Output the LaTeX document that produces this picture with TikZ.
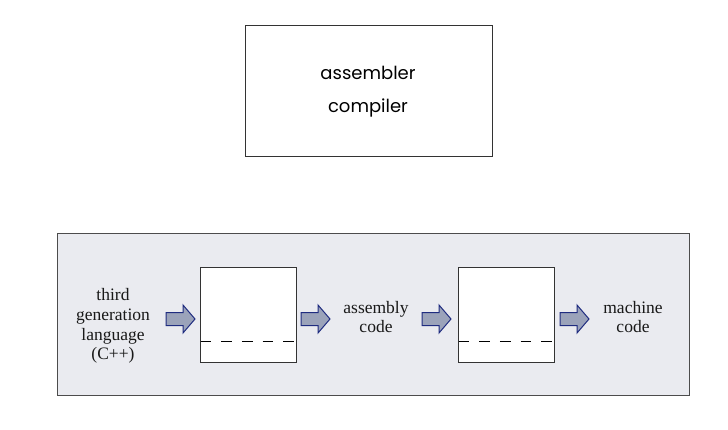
\documentclass[tikz,border=0pt]{standalone}
\usepackage{fontspec}
\setmainfont{Liberation Serif}
\newfontfamily\popfont{Poppins}
\definecolor{panelfill}{HTML}{EAEBF0}
\definecolor{arrowfill}{HTML}{9BA3BA}
\definecolor{arrowline}{HTML}{1F2C80}
\begin{document}
\begin{tikzpicture}[x=1pt,y=-1pt,
  box/.style={draw=black!80, line width=0.8pt, fill=white},
  serif/.style={font=\fontsize{17.5}{19.8}\selectfont, align=center, text=black!90},
  popstyle/.style={font=\popfont\fontsize{18}{20}\selectfont},
  dashline/.style={dash pattern=on 10.7pt off 10pt, line width=0.8pt},
  blockarrow/.pic={\draw[fill=arrowfill, draw=arrowline, line width=1pt, line join=miter]
     (0,-6.5) -- (17,-6.5) -- (17,-14) -- (29,0) -- (17,14) -- (17,6.5) -- (0,6.5) -- cycle;}
]
\useasboundingbox (0,0) rectangle (728,429);
% top box
\draw[box] (245,25) rectangle (492,156);
\node[popstyle] (asm) at (368,73) {assembler};
\node[popstyle] (comp) at (368,108) {compiler};
% panel
\draw[draw=black!70, line width=0.8pt, fill=panelfill] (57,233) rectangle (689,395);
% boxes
\draw[box] (200,267) rectangle (296,362);
\draw[dashline] (200.5,341) -- (296,341);
\draw[box] (458,267) rectangle (554,362);
\draw[dashline] (458.5,341) -- (554,341);
% arrows
\pic at (166,319) {blockarrow};
\pic at (301,319) {blockarrow};
\pic at (422,319) {blockarrow};
\pic at (560,319) {blockarrow};
% texts
\node[serif] (src) at (113,326) {third\\generation\\language\\(C++)};
\node[serif] (asmcode) at (376,317) {assembly\\code};
\node[serif] (mcode) at (633,317) {machine\\code};
\end{tikzpicture}
\end{document}
